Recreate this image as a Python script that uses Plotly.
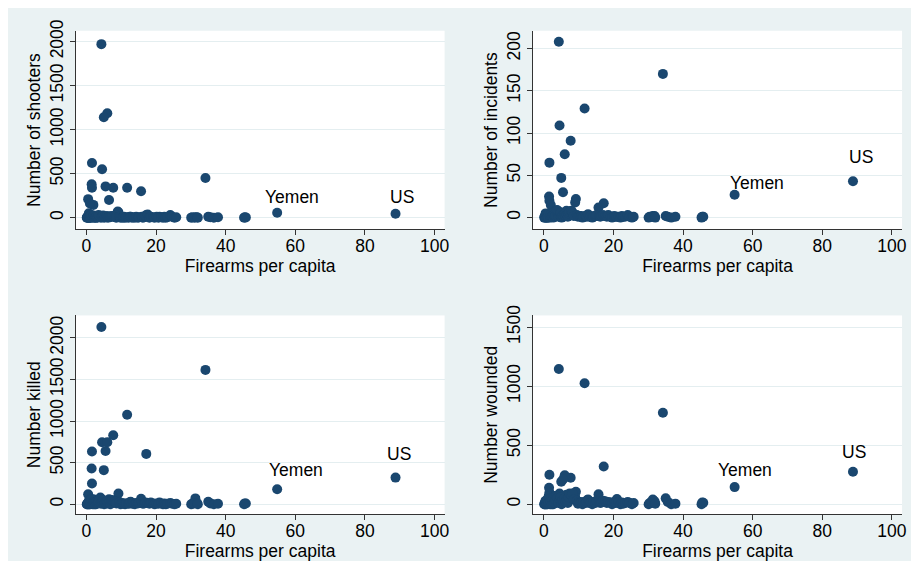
import plotly.graph_objects as go

# ---------------- data ----------------
firearms = [4.3, 34.2, 11.7, 4.5, 7.7, 6.0, 5.0, 1.6, 5.5, 17.2, 1.5, 1.6, 6.5, 15.7, 9.2, 9.0,
            0.5, 2.0, 1.0, 54.8, 88.8, 35.0, 31.3, 21.0, 12.5, 45.5, 45.8, 4.0, 3.0,
            0.1, 0.2, 0.3, 0.4, 0.5, 0.6, 0.7, 0.8, 0.9, 1.0, 1.1, 1.2, 1.3, 1.4, 1.8, 1.9,
            2.1, 2.3, 2.5, 2.7, 2.9, 3.1, 3.3, 3.5, 3.8, 4.2, 4.6, 4.8, 5.1, 5.3, 5.7, 5.9,
            6.2, 6.6, 6.9, 7.1, 7.4, 7.9, 8.3, 8.6, 9.5, 9.8, 10.2, 10.5, 10.8, 11.1, 11.4,
            12.0, 12.3, 12.7, 13.1, 13.5, 13.9, 14.3, 14.8, 15.1, 15.9, 16.2, 16.6, 17.0,
            17.6, 18.1, 18.5, 19.2, 19.6, 20.2, 20.7, 21.5, 22.0, 22.4, 22.8, 23.3, 24.1,
            24.6, 25.3, 25.8, 30.1, 30.4, 31.0, 31.8, 32.0, 35.6, 36.6, 37.8, 45.3]

shooters = [1970, 450, 340, 550, 340, 1185, 1140, 620, 355, 30, 380, 340, 200, 300, 60, 70,
            210, 145, 160, 55, 45, 10, 5, 10, 10, 5, 3, 20, 15,
            0, 5, 0, 10, 0, 2, 50, 0, 8, 0, 20, 0, 5, 30, 0, 10,
            25, 0, 5, 0, 15, 0, 5, 30, 20, 0, 10, 25, 0, 10, 5, 20,
            0, 10, 5, 15, 20, 10, 5, 0, 10, 0, 5, 0, 10, 0, 5,
            0, 5, 10, 0, 5, 0, 10, 0, 5, 10, 0, 5, 20,
            35, 0, 10, 5, 0, 10, 0, 5, 0, 10, 0, 5, 30,
            10, 0, 5, 0, 5, 0, 5, 0, 5, 0, 5, 0]

incidents = [208, 170, 129, 109, 91, 75, 47, 65, 30, 17, 25, 20, 8, 12, 22, 18,
             5, 15, 3, 27, 43, 2, 2, 1, 3, 1, 1, 8, 6,
             0, 1, 0, 2, 1, 0, 4, 0, 1, 0, 3, 1, 0, 5, 0, 2,
             4, 1, 2, 0, 3, 1, 2, 8, 9, 1, 3, 6, 0, 2, 1, 4,
             2, 3, 1, 5, 7, 8, 6, 2, 3, 1, 2, 1, 2, 0, 1,
             2, 1, 4, 1, 2, 0, 1, 2, 3, 2, 1, 2, 3,
             2, 1, 3, 1, 0, 2, 1, 1, 0, 2, 1, 1, 3,
             1, 0, 1, 0, 1, 1, 2, 0, 1, 0, 1, 0]

killed = [2130, 1615, 1075, 745, 830, 745, 410, 635, 640, 605, 430, 250, 60, 65, 130, 40,
          120, 60, 30, 180, 320, 30, 70, 20, 25, 10, 8, 80, 40,
          0, 3, 0, 15, 0, 5, 40, 0, 10, 0, 50, 2, 8, 60, 0, 20,
          15, 0, 25, 0, 30, 5, 20, 40, 60, 5, 30, 50, 0, 20, 10, 30,
          10, 20, 0, 40, 50, 40, 30, 10, 20, 0, 15, 5, 10, 0, 10,
          5, 10, 30, 5, 10, 0, 15, 10, 20, 30, 5, 10, 20,
          15, 5, 20, 10, 0, 10, 5, 10, 0, 10, 0, 5, 15,
          5, 0, 5, 0, 5, 10, 15, 0, 10, 0, 5, 0]

wounded = [1145, 775, 1025, 90, 225, 245, 190, 250, 210, 320, 140, 100, 80, 85, 105, 60,
           30, 60, 20, 145, 275, 50, 40, 45, 35, 15, 12, 60, 70,
           0, 5, 0, 20, 0, 10, 30, 0, 15, 0, 40, 5, 10, 70, 0, 30,
           50, 0, 40, 0, 60, 10, 40, 70, 50, 10, 40, 60, 0, 30, 20, 50,
           25, 40, 10, 60, 90, 80, 90, 40, 30, 5, 20, 10, 15, 0, 20,
           10, 20, 40, 10, 15, 0, 20, 10, 30, 25, 10, 15, 30,
           25, 10, 20, 15, 0, 20, 10, 20, 0, 15, 5, 10, 20,
           10, 0, 10, 0, 10, 20, 25, 5, 20, 0, 5, 0]

labels = [""] * len(firearms)
labels[19] = "Yemen"
labels[20] = "US"

x_ticks = [0, 20, 40, 60, 80, 100]
x_title = "Firearms per capita"

panels = [
    dict(y=shooters, title="Number of shooters", ticks=[0, 500, 1000, 1500, 2000]),
    dict(y=incidents, title="Number of incidents", ticks=[0, 50, 100, 150, 200]),
    dict(y=killed, title="Number killed", ticks=[0, 500, 1000, 1500, 2000]),
    dict(y=wounded, title="Number wounded", ticks=[0, 500, 1000, 1500]),
]

# ---------------- styling / layout ----------------
NAVY = "#1a476f"
BG = "#eaf2f3"
GRID = "#e4eef0"
FONT = "Liberation Sans, Arial, sans-serif"
FS = 17.5

y_ranges = [[-133, 2122], [-13.9, 221], [-118, 2270], [-83, 1599]]
x_range = [-3.1, 102.9]
# figure is sized so that, with the page's default 8px body margin, it fits the 919x569 window
x_domains = [[0.0753, 0.4862], [0.5847, 0.9956], [0.0753, 0.4862], [0.5847, 0.9956]]
y_domains = [[0.6130, 0.9801], [0.6130, 0.9801], [0.0868, 0.4539], [0.0868, 0.4539]]
label_shift = [
    {"Yemen": (15, 16), "US": (6, 17)},
    {"Yemen": (22, 12), "US": (8, 24)},
    {"Yemen": (19, 19), "US": (3, 24)},
    {"Yemen": (10, 17), "US": (1, 20)},
]

fig = go.Figure()
annotations = []
for k, p in enumerate(panels):
    sfx = "" if k == 0 else str(k + 1)
    fig.add_trace(go.Scatter(
        x=firearms, y=p["y"], mode="markers",
        marker=dict(color=NAVY, size=10, line=dict(width=0)),
        xaxis="x" + sfx, yaxis="y" + sfx, showlegend=False, hoverinfo="x+y"))
    for i, lab in enumerate(labels):
        if lab:
            dx, dy = label_shift[k][lab]
            annotations.append(dict(
                x=firearms[i], y=p["y"][i], xref="x" + sfx, yref="y" + sfx,
                text=lab, showarrow=False, xshift=dx, yshift=dy,
                font=dict(family=FONT, size=FS, color="black")))
    fig.layout["xaxis" + sfx] = dict(
        domain=x_domains[k], anchor="y" + sfx, range=x_range,
        tickvals=x_ticks, ticks="outside", ticklen=5, tickcolor="#333333",
        ticklabelstandoff=-4,
        showline=True, linecolor="#333333", linewidth=1, showgrid=False,
        zeroline=False, title=dict(text=x_title, font=dict(family=FONT, size=FS, color="black"), standoff=0),
        tickfont=dict(family=FONT, size=FS, color="black"))
    fig.layout["yaxis" + sfx] = dict(
        domain=y_domains[k], anchor="x" + sfx, range=y_ranges[k],
        tickvals=p["ticks"], ticks="outside", ticklen=5, tickcolor="#333333",
        tickangle=-90, showline=True, linecolor="#333333", linewidth=1,
        showgrid=True, gridcolor=GRID, gridwidth=1, zeroline=False,
        title=dict(text=p["title"], font=dict(family=FONT, size=FS, color="black"), standoff=1),
        tickfont=dict(family=FONT, size=FS, color="black"))

fig.update_layout(
    width=903, height=553,
    margin=dict(l=0, r=0, t=0, b=0),
    paper_bgcolor=BG, plot_bgcolor="white",
    font=dict(family=FONT, size=FS, color="black"),
    annotations=annotations,
)

fig.write_html("out.html")
